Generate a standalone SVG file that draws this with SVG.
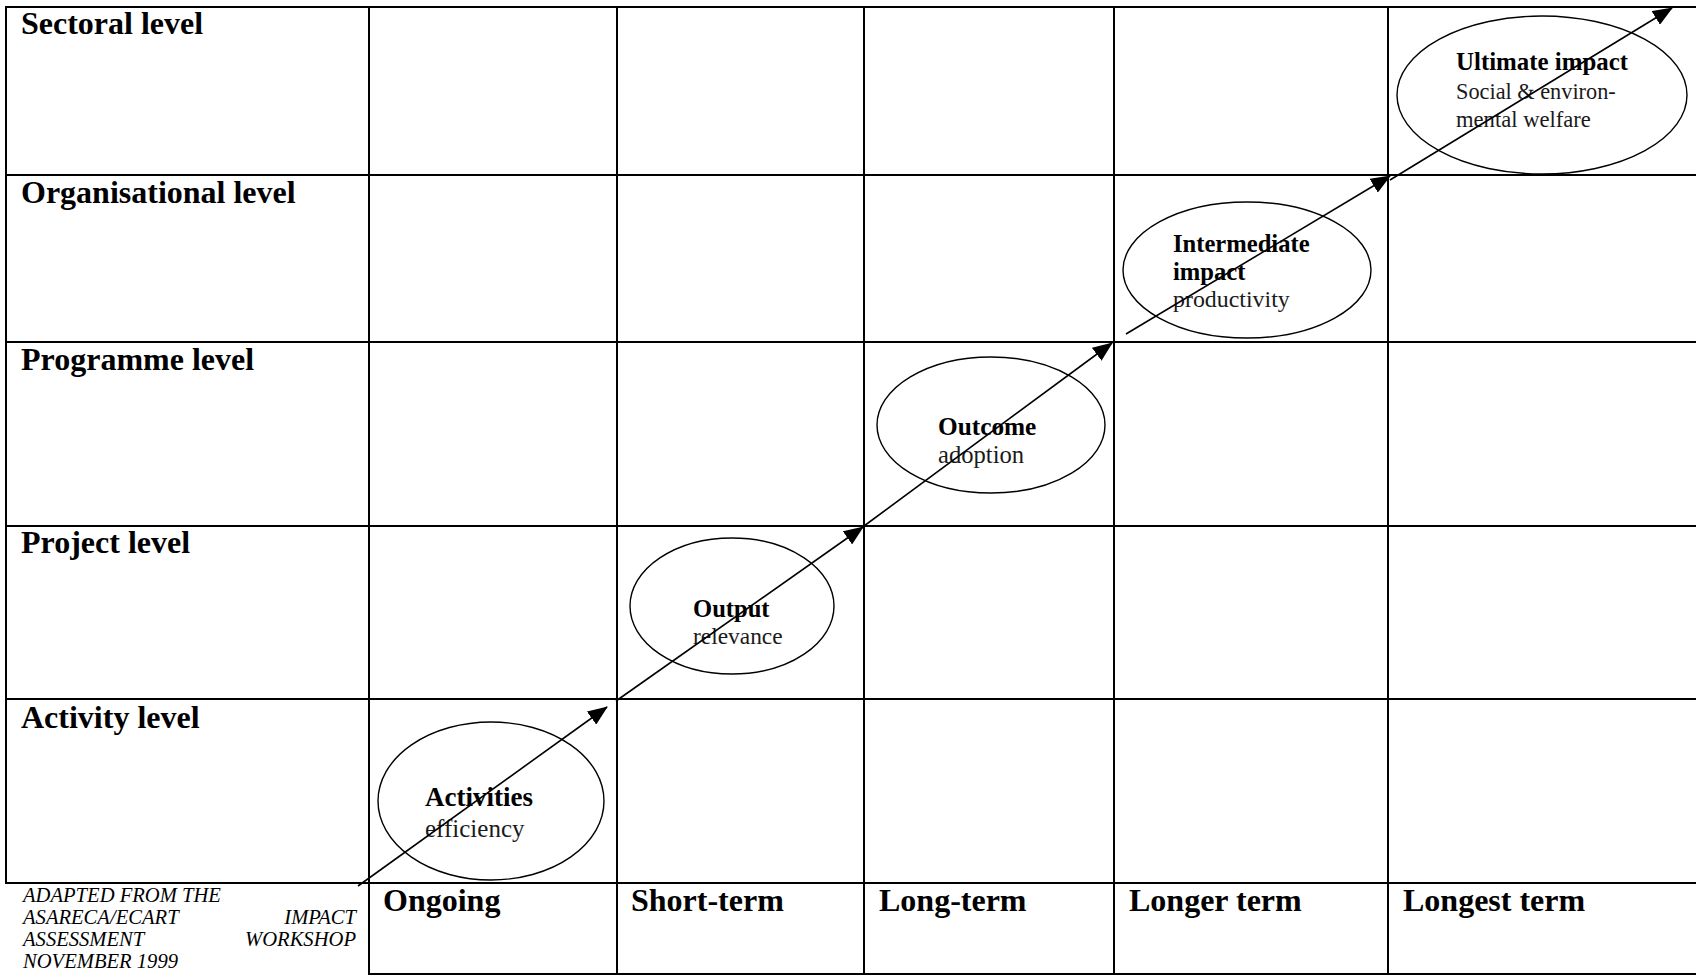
<svg xmlns="http://www.w3.org/2000/svg" width="1696" height="976" viewBox="0 0 1696 976">
  <defs>
    <marker id="head" viewBox="0 0 20 16" refX="19" refY="8" markerWidth="20" markerHeight="16" markerUnits="userSpaceOnUse" orient="auto">
      <path d="M0,0 L20,8 L0,16 z" fill="#000"/>
    </marker>
    <style>
      .grid line { stroke: #000; stroke-width: 2; }
      .hdr { font-family: "Liberation Serif", "Times New Roman", serif; font-weight: bold; font-size: 32px; fill: #000; }
      .node ellipse { fill: none; stroke: #000; stroke-width: 1.4; }
      .b { font-family: "Liberation Serif", "Times New Roman", serif; font-weight: bold; fill: #000; }
      .r { font-family: "Liberation Serif", "Times New Roman", serif; fill: #1a1a1a; }
      .note { font-family: "Liberation Serif", "Times New Roman", serif; font-style: italic; font-size: 20.6px; fill: #000; }
      .flow path { fill: none; stroke: #000; stroke-width: 1.6; marker-end: url(#head); }
    </style>
  </defs>
  <rect width="1696" height="976" fill="#fff"/>

  <!-- table rules -->
  <g class="grid">
    <line x1="5" y1="7" x2="1696" y2="7"/>
    <line x1="5" y1="175" x2="1696" y2="175"/>
    <line x1="5" y1="342" x2="1696" y2="342"/>
    <line x1="5" y1="526" x2="1696" y2="526"/>
    <line x1="5" y1="699" x2="1696" y2="699"/>
    <line x1="5" y1="883" x2="1696" y2="883"/>
    <line x1="368" y1="974" x2="1696" y2="974"/>
    <line x1="6" y1="6" x2="6" y2="884"/>
    <line x1="369" y1="6" x2="369" y2="975"/>
    <line x1="617" y1="6" x2="617" y2="975"/>
    <line x1="864" y1="6" x2="864" y2="975"/>
    <line x1="1114" y1="6" x2="1114" y2="975"/>
    <line x1="1388" y1="6" x2="1388" y2="975"/>
  </g>

  <!-- level headings -->
  <g id="levels">
    <text class="hdr" x="21" y="34">Sectoral level</text>
    <text class="hdr" x="21" y="203">Organisational level</text>
    <text class="hdr" x="21" y="370">Programme level</text>
    <text class="hdr" x="21" y="553">Project level</text>
    <text class="hdr" x="21" y="728">Activity level</text>
  </g>

  <!-- time headings -->
  <g id="terms">
    <text class="hdr" x="383" y="911">Ongoing</text>
    <text class="hdr" x="631" y="911">Short-term</text>
    <text class="hdr" x="879" y="911">Long-term</text>
    <text class="hdr" x="1129" y="911">Longer term</text>
    <text class="hdr" x="1403" y="911">Longest term</text>
  </g>

  <!-- source note -->
  <g id="source">
    <text class="note" x="23" y="902">ADAPTED FROM THE</text>
    <text class="note" x="23" y="924">ASARECA/ECART</text>
    <text class="note" x="356" y="924" text-anchor="end">IMPACT</text>
    <text class="note" x="23" y="946">ASSESSMENT</text>
    <text class="note" x="356" y="946" text-anchor="end">WORKSHOP</text>
    <text class="note" x="23" y="968">NOVEMBER 1999</text>
  </g>

  <g id="activities" class="node">
    <ellipse cx="491" cy="801" rx="113" ry="79"/>
    <text class="b" x="425" y="806" font-size="27">Activities</text>
    <text class="r" x="425" y="837" font-size="25">efficiency</text>
  </g>

  <g id="output" class="node">
    <ellipse cx="732" cy="606" rx="102" ry="68"/>
    <text class="b" x="693" y="617" font-size="24.6">Output</text>
    <text class="r" x="693" y="644" font-size="23.4">relevance</text>
  </g>

  <g id="outcome" class="node">
    <ellipse cx="991" cy="425" rx="114" ry="68"/>
    <text class="b" x="938" y="435" font-size="25.3">Outcome</text>
    <text class="r" x="938" y="463" font-size="24.6">adoption</text>
  </g>

  <g id="intermediate" class="node">
    <ellipse cx="1247" cy="270" rx="124" ry="68"/>
    <text class="b" x="1173" y="252" font-size="24.6">Intermediate</text>
    <text class="b" x="1173" y="280" font-size="24.6">impact</text>
    <text class="r" x="1173" y="307" font-size="23.9">productivity</text>
  </g>

  <g id="ultimate" class="node">
    <ellipse cx="1542" cy="95" rx="145" ry="79"/>
    <text class="b" x="1456" y="70" font-size="24.9">Ultimate impact</text>
    <text class="r" x="1456" y="99" font-size="22.3">Social &amp; environ-</text>
    <text class="r" x="1456" y="127" font-size="22.6">mental welfare</text>
  </g>

  <!-- progression arrows -->
  <g id="connectors" class="flow">
    <path d="M358,886 L607,707"/>
    <path d="M616,701 L863,527"/>
    <path d="M864,526 L1112,343"/>
    <path d="M1126,334 L1390,176"/>
    <path d="M1390,180 L1672,8"/>
  </g>
</svg>
